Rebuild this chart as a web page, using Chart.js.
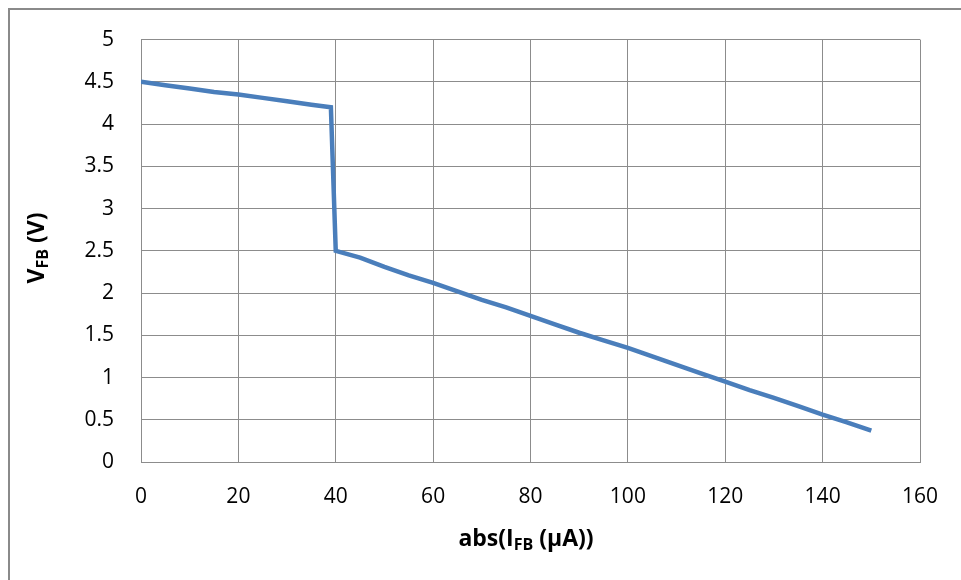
<!DOCTYPE html>
<html>
<head>
<meta charset="utf-8">
<script src="https://cdn.jsdelivr.net/npm/chart.js@4.4.1/dist/chart.umd.min.js"></script>
<style>
  html, body { margin: 0; padding: 0; background: #fff; }
  #wrap { position: relative; width: 961px; height: 580px; }
  #frame { position: absolute; left: 8px; top: 8px; width: 970px; height: 600px;
           border-left: 2px solid #8a8a8a; border-top: 2px solid #8a8a8a; box-sizing: border-box; }
  canvas { position: absolute; left: 0; top: 0; }
</style>
</head>
<body>
<div id="wrap">
  <div id="frame"></div>
  <canvas id="chart" width="961" height="580"></canvas>
</div>
<script>
// Corriente de realimentación abs(I_FB) en µA
const corriente = [0, 5, 10, 15, 20, 25, 30, 35, 39, 40, 45, 50, 55, 60, 65, 70, 75, 80,
  85, 90, 95, 100, 105, 110, 115, 120, 125, 130, 135, 140, 145, 150];
// Tensión V_FB en V
const tension = [4.50, 4.46, 4.42, 4.38, 4.35, 4.31, 4.27, 4.23, 4.20, 2.50, 2.42, 2.31, 2.21,
  2.12, 2.02, 1.92, 1.83, 1.73, 1.63, 1.53, 1.44, 1.35, 1.25, 1.15, 1.05, 0.95, 0.85,
  0.76, 0.66, 0.56, 0.47, 0.37];

const FONT = "'Open Sans', 'DejaVu Sans', sans-serif";
const GRID = "#8c8c8c";

// Títulos de ejes con subíndice (Chart.js no lo soporta directamente)
function drawSubText(ctx, parts, cx, cy) {
  let total = 0;
  parts.forEach((p) => {
    ctx.font = p.sub ? "bold 16px " + FONT : "bold 23px " + FONT;
    total += ctx.measureText(p.t).width;
  });
  let x = cx - total / 2;
  parts.forEach((p) => {
    ctx.font = p.sub ? "bold 16px " + FONT : "bold 23px " + FONT;
    ctx.fillText(p.t, x, p.sub ? cy + 6 : cy);
    x += ctx.measureText(p.t).width;
  });
}

const axisTitles = {
  id: "axisTitles",
  afterDraw(chart) {
    const ctx = chart.ctx;
    ctx.save();
    ctx.fillStyle = "#000";
    ctx.textBaseline = "middle";
    ctx.textAlign = "left";
    drawSubText(ctx, [{ t: "abs(I" }, { t: "FB", sub: true }, { t: " (µA))" }], 526, 539);
    ctx.translate(37, 248);
    ctx.rotate(-Math.PI / 2);
    drawSubText(ctx, [{ t: "V" }, { t: "FB", sub: true }, { t: " (V)" }], 0, 0);
    ctx.restore();
  },
};

const puntos = corriente.map((x, i) => ({ x, y: tension[i] }));

new Chart(document.getElementById("chart").getContext("2d"), {
  type: "scatter",
  data: {
    datasets: [
      {
        data: puntos,
        showLine: true,
        borderColor: "#4a7ebb",
        borderWidth: 4.5,
        pointRadius: 0,
        tension: 0,
      },
    ],
  },
  options: {
    responsive: false,
    animation: false,
    layout: { padding: { left: 0, top: 38, right: 41, bottom: 0 } },
    plugins: { legend: { display: false }, tooltip: { enabled: false } },
    scales: {
      x: {
        type: "linear",
        min: 0,
        max: 160,
        ticks: { stepSize: 20, padding: 22, color: "#000", font: { family: FONT, size: 21 } },
        grid: { color: GRID, drawTicks: false },
        border: { color: GRID },
        afterFit: (s) => { s.height = 118; },
      },
      y: {
        min: 0,
        max: 5,
        ticks: {
          stepSize: 0.5,
          padding: 27,
          color: "#000",
          font: { family: FONT, size: 21 },
          callback: (v) => String(v),
        },
        grid: { color: GRID, drawTicks: false },
        border: { color: GRID },
        afterFit: (s) => { s.width = 141; },
      },
    },
  },
  plugins: [axisTitles],
});
</script>
</body>
</html>
